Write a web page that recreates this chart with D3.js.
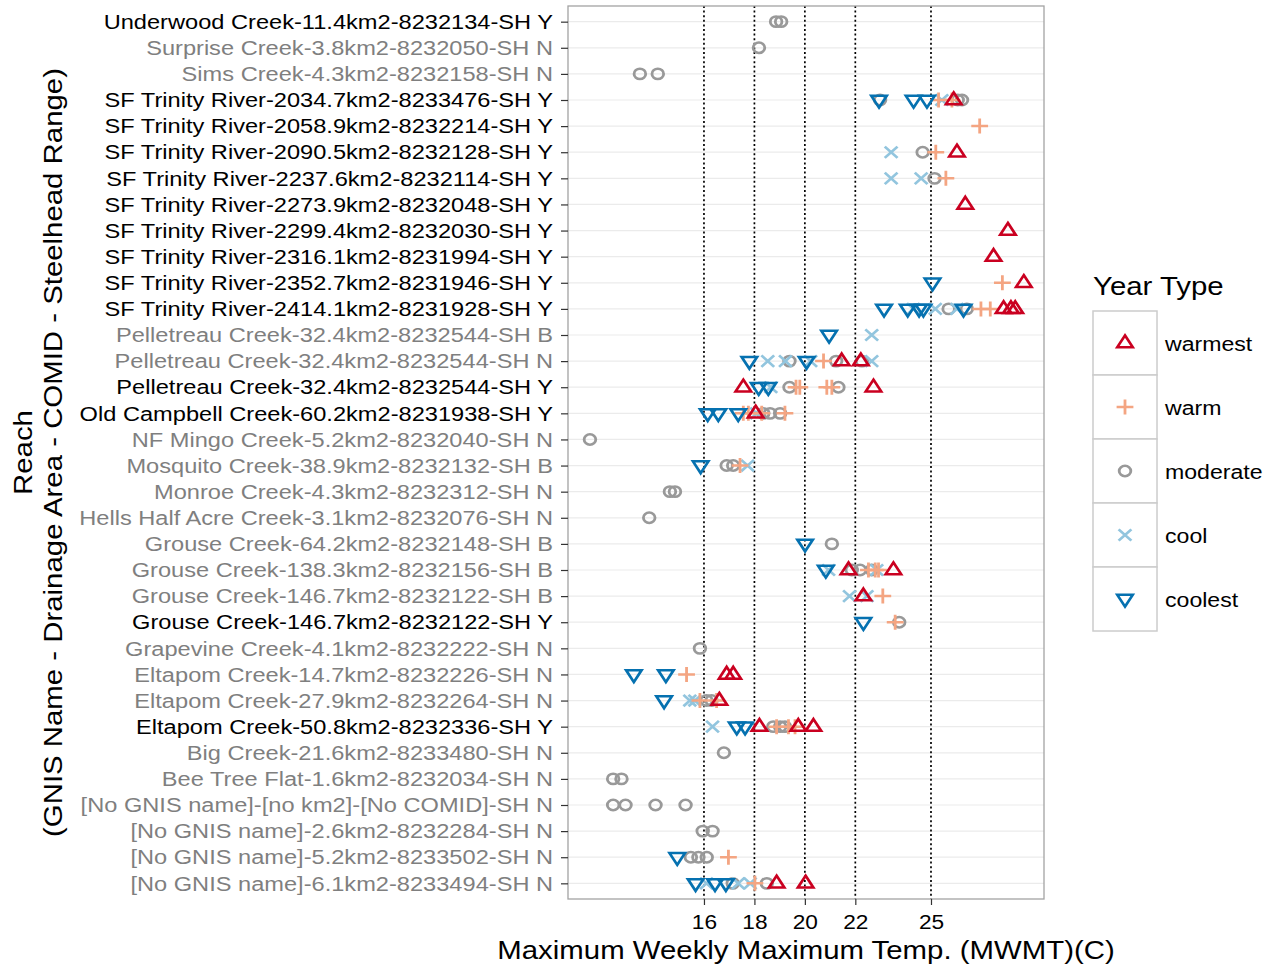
<!DOCTYPE html>
<html>
<head>
<meta charset="utf-8">
<script src="https://cdn.jsdelivr.net/npm/d3@7"></script>
<style>
	body { margin: 0; background: #fff; }
	text { font-family: "Liberation Sans", Arial, sans-serif; }
</style>
</head>
<body>
<svg id="chart" width="1276" height="972"></svg>
<script>
// reaches, top to bottom
var reaches = [
	"Underwood Creek-11.4km2-8232134-SH Y",
	"Surprise Creek-3.8km2-8232050-SH N",
	"Sims Creek-4.3km2-8232158-SH N",
	"SF Trinity River-2034.7km2-8233476-SH Y",
	"SF Trinity River-2058.9km2-8232214-SH Y",
	"SF Trinity River-2090.5km2-8232128-SH Y",
	"SF Trinity River-2237.6km2-8232114-SH Y",
	"SF Trinity River-2273.9km2-8232048-SH Y",
	"SF Trinity River-2299.4km2-8232030-SH Y",
	"SF Trinity River-2316.1km2-8231994-SH Y",
	"SF Trinity River-2352.7km2-8231946-SH Y",
	"SF Trinity River-2414.1km2-8231928-SH Y",
	"Pelletreau Creek-32.4km2-8232544-SH B",
	"Pelletreau Creek-32.4km2-8232544-SH N",
	"Pelletreau Creek-32.4km2-8232544-SH Y",
	"Old Campbell Creek-60.2km2-8231938-SH Y",
	"NF Mingo Creek-5.2km2-8232040-SH N",
	"Mosquito Creek-38.9km2-8232132-SH B",
	"Monroe Creek-4.3km2-8232312-SH N",
	"Hells Half Acre Creek-3.1km2-8232076-SH N",
	"Grouse Creek-64.2km2-8232148-SH B",
	"Grouse Creek-138.3km2-8232156-SH B",
	"Grouse Creek-146.7km2-8232122-SH B",
	"Grouse Creek-146.7km2-8232122-SH Y",
	"Grapevine Creek-4.1km2-8232222-SH N",
	"Eltapom Creek-14.7km2-8232226-SH N",
	"Eltapom Creek-27.9km2-8232264-SH N",
	"Eltapom Creek-50.8km2-8232336-SH Y",
	"Big Creek-21.6km2-8233480-SH N",
	"Bee Tree Flat-1.6km2-8232034-SH N",
	"[No GNIS name]-[no km2]-[No COMID]-SH N",
	"[No GNIS name]-2.6km2-8232284-SH N",
	"[No GNIS name]-5.2km2-8233502-SH N",
	"[No GNIS name]-6.1km2-8233494-SH N"
];

// MWMT values per reach (same order as reaches), one array per year type
var warmest = [
	[], [], [], [25.9], [], [26.03], [], [26.36], [28.05], [27.48],
	[28.68], [27.88, 28.17, 28.34], [], [21.46, 22.22], [17.56, 22.72], [18.05], [], [], [], [],
	[], [21.73, 23.51], [22.32], [], [], [16.9, 17.16], [16.61], [18.2, 19.74, 20.34], [], [],
	[], [], [], [18.88, 20.03]
];
var warm = [
	[], [], [], [25.3, 25.83], [26.93], [25.19], [25.59], [], [], [],
	[27.83], [26.98, 27.35], [], [20.74], [19.65, 19.8, 20.87, 21.07], [17.56, 17.76, 18.29, 19.21], [], [17.43], [], [],
	[], [22.52, 22.79, 22.92], [23.09], [23.58], [], [15.31], [15.84, 16.5], [18.88, 19.35, 19.61], [], [],
	[], [], [16.97], [18.02]
];
var moderate = [
	[18.86, 19.06], [18.18], [13.46, 14.17], [22.98, 26.06, 26.23], [], [24.67], [25.14], [], [], [],
	[], [25.7, 26.42], [], [19.39, 21.24, 22.26], [19.39, 21.33], [18.35, 18.62, 19.02], [11.48], [16.9, 17.16], [14.65, 14.85], [13.83],
	[21.07], [21.86, 22.19, 22.65], [], [23.74], [15.84], [], [16.1, 16.3], [18.75, 19.02, 19.21], [16.79], [12.4, 12.73],
	[12.4, 12.89, 14.08, 15.27], [15.95, 16.34], [15.48, 15.78, 16.11], [17.14, 18.49]
];
var cool = [
	[], [], [], [25.43], [], [23.42], [23.42, 24.61], [], [], [],
	[], [24.3, 25.17, 26.03], [22.65], [18.53, 19.23, 20.23, 22.65], [18.65], [18.09], [], [17.73], [], [],
	[], [20.94, 22.85], [21.77, 22.46], [], [], [], [15.44, 15.64], [16.34], [], [],
	[], [], [], [16.1, 17.36, 17.83]
];
var coolest = [
	[], [], [], [22.94, 24.31, 24.84], [], [], [], [], [], [],
	[25.06], [23.14, 24.08, 24.53, 24.7, 26.29], [20.96], [17.8, 20.07], [18.17, 18.55], [16.15, 16.57, 17.36], [], [15.87], [], [],
	[20.01], [20.83], [], [22.32], [], [13.22, 14.49], [14.42], [17.3, 17.63], [], [],
	[], [], [14.94], [15.67, 16.44, 16.87]
];

var xTicks = [16, 18, 20, 22, 25];
var yearTypes = ["warmest", "warm", "moderate", "cool", "coolest"];
var seriesByType = { warmest: warmest, warm: warm, moderate: moderate, cool: cool, coolest: coolest };
var colors = { warmest: "#ca0020", warm: "#f4a582", moderate: "#999999", cool: "#92c5de", coolest: "#0571b0" };

var panel = { left: 568, right: 1044, top: 6, bottom: 899 };
var stretch = 1.13; // the reference font runs wider than Liberation Sans

var svg = d3.select("#chart");

var x = d3.scaleLinear()
	.domain([10.61, 29.48])
	.range([panel.left, panel.right]);

var y = d3.scalePoint()
	.domain(reaches)
	.range([panel.top, panel.bottom])
	.padding(0.6);

// marker outlines, drawn round (0,0)
function markerPath(type) {
	if (type === "warmest") return "M0,-7.6L6.9,4.2L-6.9,4.2Z";
	if (type === "coolest") return "M0,7.6L6.9,-4.2L-6.9,-4.2Z";
	if (type === "warm") return "M-7.5,0H7.5M0,-7.5V7.5";
	if (type === "cool") return "M-5.7,-5.7L5.7,5.7M-5.7,5.7L5.7,-5.7";
	return "M5.2,0A5.2,5.2 0 1,1 -5.2,0A5.2,5.2 0 1,1 5.2,0Z";
}

// panel background and horizontal grid
svg.append("rect")
	.attr("x", panel.left).attr("y", panel.top)
	.attr("width", panel.right - panel.left).attr("height", panel.bottom - panel.top)
	.attr("fill", "#fff");

svg.append("g").selectAll("line")
	.data(reaches)
	.enter().append("line")
	.attr("x1", panel.left).attr("x2", panel.right)
	.attr("y1", function(d) { return y(d); })
	.attr("y2", function(d) { return y(d); })
	.attr("stroke", "#ebebeb")
	.attr("stroke-width", 1.2);

// dotted reference lines at the tick values
svg.append("g").selectAll("line")
	.data(xTicks)
	.enter().append("line")
	.attr("x1", function(d) { return x(d); })
	.attr("x2", function(d) { return x(d); })
	.attr("y1", panel.top).attr("y2", panel.bottom)
	.attr("stroke", "#000")
	.attr("stroke-width", 1.7)
	.attr("stroke-dasharray", "2,2.6");

// flatten series into points
var points = [];
["moderate", "cool", "warm", "coolest", "warmest"].forEach(function(type) {
	seriesByType[type].forEach(function(values, i) {
		values.forEach(function(v) {
			points.push({ type: type, reach: reaches[i], value: v });
		});
	});
});

svg.append("g").selectAll("path")
	.data(points)
	.enter().append("path")
	.attr("d", function(d) { return markerPath(d.type); })
	.attr("transform", function(d) {
		return "translate(" + x(d.value) + "," + y(d.reach) + ") scale(1.12,1)";
	})
	.attr("fill", "none")
	.attr("stroke", function(d) { return colors[d.type]; })
	.attr("stroke-width", 2.5)
	.attr("stroke-linejoin", "miter");

// panel border
svg.append("rect")
	.attr("x", panel.left).attr("y", panel.top)
	.attr("width", panel.right - panel.left).attr("height", panel.bottom - panel.top)
	.attr("fill", "none")
	.attr("stroke", "#a3a3a3")
	.attr("stroke-width", 1.3);

// y axis
var gy = svg.append("g")
	.attr("transform", "translate(" + panel.left + ",0)")
	.call(d3.axisLeft(y).tickSize(7).tickPadding(6.3));
gy.select(".domain").remove();
gy.selectAll(".tick line").attr("stroke", "#333").attr("stroke-width", 1.2);
gy.selectAll(".tick text")
	.attr("font-size", 21)
	.attr("font-family", "Liberation Sans, Arial, sans-serif")
	.attr("fill", function(d) { return /SH Y$/.test(d) ? "#000" : "#7f7f7f"; })
	.attr("transform", "scale(1.125,1)");

// x axis
var gx = svg.append("g")
	.attr("transform", "translate(0," + panel.bottom + ")")
	.call(d3.axisBottom(x).tickValues(xTicks).tickSize(6).tickPadding(9));
gx.select(".domain").remove();
gx.selectAll(".tick line").attr("stroke", "#333").attr("stroke-width", 1.2);
gx.selectAll(".tick text")
	.attr("font-size", 21)
	.attr("font-family", "Liberation Sans, Arial, sans-serif")
	.attr("fill", "#000")
	.attr("transform", "scale(1.08,1)");

// axis titles
svg.append("text")
	.attr("transform", "translate(" + ((panel.left + panel.right) / 2) + ",959) scale(" + stretch + ",1)")
	.attr("text-anchor", "middle")
	.attr("font-size", 26)
	.text("Maximum Weekly Maximum Temp. (MWMT)(C)");

var midY = (panel.top + panel.bottom) / 2;
svg.append("text")
	.attr("transform", "translate(32," + midY + ") rotate(-90) scale(" + stretch + ",1)")
	.attr("text-anchor", "middle")
	.attr("font-size", 26)
	.text("Reach");
svg.append("text")
	.attr("transform", "translate(62," + midY + ") rotate(-90) scale(" + stretch + ",1)")
	.attr("text-anchor", "middle")
	.attr("font-size", 26)
	.text("(GNIS Name - Drainage Area - COMID - Steelhead Range)");

// legend
var legend = svg.append("g").attr("transform", "translate(1093,0)");
legend.append("text")
	.attr("transform", "translate(0,295) scale(" + stretch + ",1)")
	.attr("font-size", 26)
	.text("Year Type");

var keySize = 64, keyTop = 311;
var key = legend.selectAll(".key")
	.data(yearTypes)
	.enter().append("g")
	.attr("class", "key")
	.attr("transform", function(d, i) { return "translate(0," + (keyTop + i * keySize) + ")"; });

key.append("rect")
	.attr("width", keySize).attr("height", keySize)
	.attr("fill", "#fff")
	.attr("stroke", "#cccccc")
	.attr("stroke-width", 1.5);

key.append("path")
	.attr("d", function(d) { return markerPath(d); })
	.attr("transform", "translate(" + (keySize / 2) + "," + (keySize / 2) + ") scale(1.12,1)")
	.attr("fill", "none")
	.attr("stroke", function(d) { return colors[d]; })
	.attr("stroke-width", 2.5);

key.append("text")
	.attr("transform", "translate(72," + (keySize / 2 + 7.5) + ") scale(1.1,1)")
	.attr("font-size", 21)
	.text(function(d) { return d; });
</script>
</body>
</html>
